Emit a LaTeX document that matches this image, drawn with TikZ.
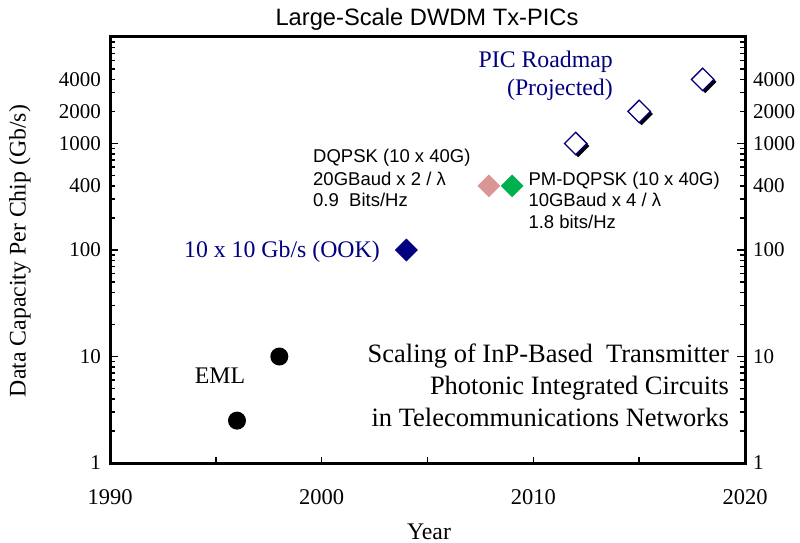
\documentclass[tikz,border=0pt]{standalone}
\usepackage{fontspec}
\setmainfont{Liberation Serif}
\setsansfont{Liberation Sans}
\usetikzlibrary{shapes.geometric,shadows}
\definecolor{navy}{RGB}{0,0,128}
\definecolor{rosy}{RGB}{217,150,148}
\definecolor{emer}{RGB}{0,176,80}
\begin{document}
\begin{tikzpicture}[x=1pt,y=-1pt,
  declare function={px(\t)=110+(\t-1990)*21.1667; py(\v)=463-106.5*log10(\v);},
  axisline/.style={line width=3pt},
  tickline/.style={line width=1.6pt},
  ylab/.style={font=\fontsize{21}{25}\selectfont, inner sep=0pt},
  xlab/.style={font=\fontsize{22.5}{27}\selectfont, inner sep=0pt},
  serifnote/.style={font=\fontsize{23.8}{28.5}\selectfont, inner sep=0pt},
  bignote/.style={font=\fontsize{26.5}{32}\selectfont, inner sep=0pt, anchor=base east},
  sansnote/.style={font=\sffamily\fontsize{18.5}{22}\selectfont, inner sep=0pt, anchor=base west},
  dot/.style={circle, fill=black, minimum size=18pt, inner sep=0pt},
  dmd/.style={diamond, minimum width=23pt, minimum height=23pt, inner sep=0pt},
  hollow/.style={diamond, minimum width=23pt, minimum height=23pt, inner sep=0pt,
     draw=navy, line width=1.3pt, fill=white,
     general shadow={fill=black, shadow xshift=2.5pt, shadow yshift=-2.5pt}},
]
\useasboundingbox (0,0) rectangle (800,543);

% title
\node[font=\sffamily\fontsize{23.7}{28}\selectfont, inner sep=0pt, anchor=base] (title) at (427,26) {Large-Scale DWDM Tx-PICs};

% frame
\draw[axisline] (110,37) rectangle (745,463);

% y ticks
\foreach \d in {0,1,2,3}{
  \foreach \m in {2,...,9}{
    \draw[tickline] (110,{py(\m*10^\d)}) -- ++(5,0);
    \draw[tickline] (745,{py(\m*10^\d)}) -- ++(-5,0);
  }
}
\foreach \d in {1,2,3}{
  \draw[tickline] (110,{py(10^\d)}) -- ++(8,0);
  \draw[tickline] (745,{py(10^\d)}) -- ++(-8,0);
}
% x ticks
\foreach \yr in {1995,2000,2005,2010,2015}{
  \draw[tickline] ({px(\yr)},463) -- ++(0,-6);
}

% y tick labels
\foreach \v/\n in {1/l1,10/l10,100/l100,400/l400,1000/l1000,2000/l2000,4000/l4000}{
  \node[ylab, anchor=east] (L\n) at (101,{py(\v)}) {\v};
  \node[ylab, anchor=west] (R\n) at (753,{py(\v)}) {\v};
}
% x tick labels
\foreach \yr in {1990,2000,2010,2020}{
  \node[xlab] (X\yr) at ({px(\yr)},497) {\yr};
}

% axis titles
\node[serifnote, anchor=base] (xtitle) at (429,539) {Year};
\node[serifnote, rotate=90] (ytitle) at (20,251) {Data Capacity Per Chip (Gb/s)};

% data
\node[dot] (e1) at ({px(1996)},{py(2.5)}) {};
\node[dot] (e2) at ({px(1998)},{py(10)}) {};
\node[dmd, fill=navy] (ook) at ({px(2004)},{py(100)}) {};
\node[dmd, fill=rosy] (dq) at ({px(2007.9)},{py(400)}) {};
\node[dmd, fill=emer] (pmdq) at ({px(2009)},{py(400)}) {};
\node[hollow] (r1) at ({px(2012)},{py(1000)}) {};
\node[hollow] (r2) at ({px(2015)},{py(2000)}) {};
\node[hollow] (r3) at ({px(2018)},{py(4000)}) {};

% annotations
\node[serifnote, anchor=base] (eml) at (220,383) {EML};
\node[serifnote, anchor=base east, text=navy] (ooklab) at (380,257) {10 x 10 Gb/s (OOK)};
\node[serifnote, anchor=base east, text=navy] (road1) at (613,67) {PIC Roadmap};
\node[serifnote, anchor=base east, text=navy] (road2) at (613,95) {(Projected)};

\node[sansnote] (dq1) at (313,162.7) {DQPSK (10 x 40G)};
\node[sansnote] (dq2) at (313,185) {20GBaud x 2 / λ};
\node[sansnote] (dq3) at (313,206.7) {0.9\ \ Bits/Hz};

\node[sansnote] (pm1) at (528.3,185) {PM-DQPSK (10 x 40G)};
\node[sansnote] (pm2) at (528.3,206.5) {10GBaud x 4 / λ};
\node[sansnote] (pm3) at (528.3,228) {1.8 bits/Hz};

\node[bignote] (sc1) at (729,362) {Scaling of InP-Based\ \ Transmitter};
\node[bignote] (sc2) at (729,394) {Photonic Integrated Circuits};
\node[bignote] (sc3) at (729,426) {in Telecommunications Networks};
\end{tikzpicture}
\end{document}
